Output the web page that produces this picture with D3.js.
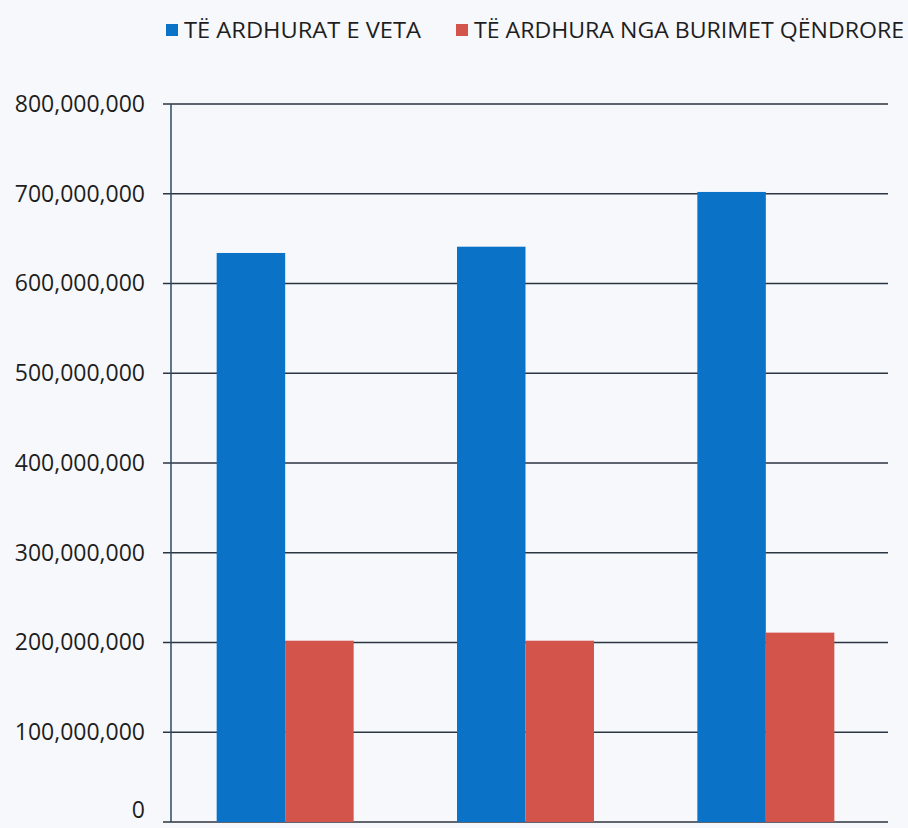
<!DOCTYPE html>
<html>
<head>
<meta charset="utf-8">
<script src="https://cdn.jsdelivr.net/npm/d3@7"></script>
<style>
  body { margin: 0; background: #f6f8fc; }
  text { font-family: "Open Sans", sans-serif; fill: #1e1e1e; }
</style>
</head>
<body>
<div id="chart"></div>
<script>
// Chart data
const categories = ["Viti 1", "Viti 2", "Viti 3"];
const seriesNames = ["TË ARDHURAT E VETA", "TË ARDHURA NGA BURIMET QËNDRORE"];
const ownRevenue = [634000000, 641000000, 702000000];
const centralRevenue = [202000000, 202000000, 211000000];
const yTicks = [0, 100000000, 200000000, 300000000, 400000000, 500000000, 600000000, 700000000, 800000000];

const colors = ["#0b73c7", "#d2544b"];

// Dimensions
const width = 908;
const height = 828;

const svg = d3.select("#chart")
  .append("svg")
  .attr("width", width)
  .attr("height", height);

// Scales
const x0 = d3.scaleBand()
  .domain(categories)
  .range([165, 886])
  .paddingInner(0.43)
  .paddingOuter(0.215);

const x1 = d3.scaleBand()
  .domain(seriesNames)
  .range([0, x0.bandwidth()]);

const y = d3.scaleLinear()
  .domain([0, 800000000])
  .range([822, 104]);

// Gridlines with tick marks to the left of the axis
svg.append("g")
  .selectAll("line")
  .data(yTicks)
  .enter()
  .append("line")
  .attr("x1", 163)
  .attr("x2", 888)
  .attr("y1", (d) => y(d))
  .attr("y2", (d) => y(d))
  .attr("stroke", "#2b3440")
  .attr("stroke-width", 1.4);

// Y axis labels
const yAxis = d3.axisLeft(y)
  .tickValues(yTicks)
  .tickFormat(d3.format(","))
  .tickSize(0)
  .tickPadding(0);

const yAxisG = svg.append("g")
  .attr("transform", "translate(145, 0)")
  .call(yAxis);
yAxisG.select(".domain").remove();
yAxisG.selectAll("text")
  .attr("font-family", "Open Sans, sans-serif")
  .attr("font-size", 23)
  .attr("fill", "#1e1e1e");
// keep the zero label inside the picture
yAxisG.selectAll("text")
  .filter((d) => d === 0)
  .attr("dy", "-0.2em");

// Vertical axis line
svg.append("line")
  .attr("x1", 171)
  .attr("x2", 171)
  .attr("y1", y(800000000))
  .attr("y2", y(0))
  .attr("stroke", "#2b4a66")
  .attr("stroke-width", 1.5);

// Bars
const rows = categories.map((c, i) => ({
  category: c,
  values: [ownRevenue[i], centralRevenue[i]]
}));

const groups = svg.append("g")
  .selectAll("g")
  .data(rows)
  .enter()
  .append("g")
  .attr("transform", (d) => `translate(${x0(d.category)}, 0)`);

groups.selectAll("rect")
  .data((d) => d.values.map((v, j) => ({ name: seriesNames[j], value: v, idx: j })))
  .enter()
  .append("rect")
  .attr("x", (d) => x1(d.name))
  .attr("y", (d) => y(d.value))
  .attr("width", x1.bandwidth())
  .attr("height", (d) => y(0) - y(d.value))
  .attr("fill", (d) => colors[d.idx]);

// Legend
const legendX = [166, 456];
const legendW = [237, 430];
const legend = svg.append("g")
  .selectAll("g")
  .data(seriesNames)
  .enter()
  .append("g")
  .attr("transform", (d, i) => `translate(${legendX[i]}, 30)`);

legend.append("rect")
  .attr("x", 0)
  .attr("y", -6)
  .attr("width", 12)
  .attr("height", 12)
  .attr("fill", (d, i) => colors[i]);

legend.append("text")
  .attr("x", 18)
  .attr("y", 8)
  .attr("font-size", 21)
  .attr("textLength", (d, i) => legendW[i])
  .attr("lengthAdjust", "spacingAndGlyphs")
  .text((d) => d);
</script>
</body>
</html>
